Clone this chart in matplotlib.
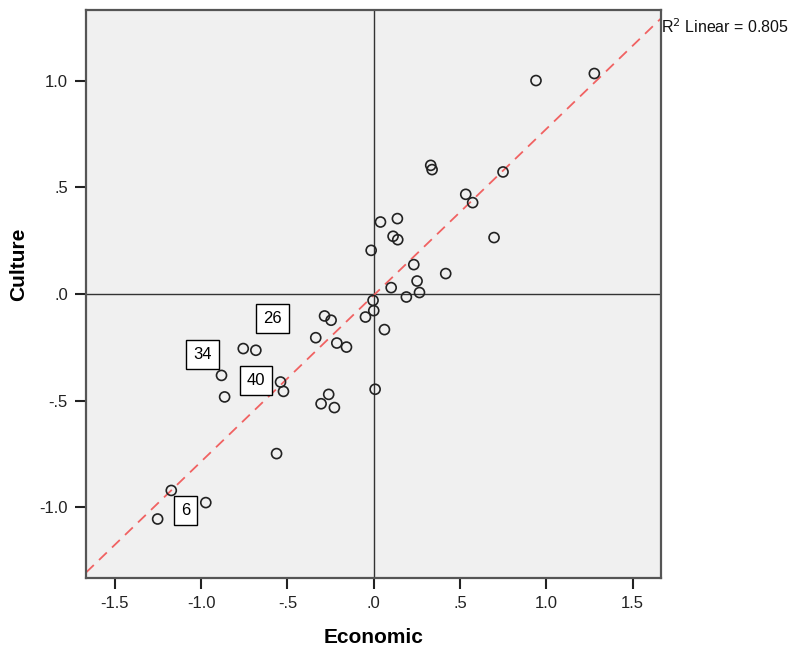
import numpy as np
import matplotlib
matplotlib.use("Agg")
import matplotlib.pyplot as plt
from matplotlib.ticker import FuncFormatter

plt.rcParams['font.family'] = ['Liberation Sans', 'DejaVu Sans']

# scatter values
economic = [0.940, 1.278, 0.330, 0.338, 0.749, 0.533, 0.573, 0.039, 0.137, 0.112,
            0.139, 0.697, -0.015, 0.232, 0.417, 0.251, 0.101, 0.265, 0.189, -0.004,
            0.000, 0.062, 0.008, -0.048, -0.285, -0.247, -0.336, -0.214, -0.158, -0.756,
            -0.683, -0.882, -0.540, -0.523, -0.864, -0.261, -0.305, -0.228, -0.563, -1.173,
            -0.973, -1.252]
culture = [1.002, 1.035, 0.604, 0.584, 0.573, 0.468, 0.429, 0.338, 0.354, 0.271,
           0.255, 0.265, 0.205, 0.138, 0.096, 0.061, 0.030, 0.007, -0.014, -0.030,
           -0.078, -0.167, -0.447, -0.108, -0.103, -0.123, -0.205, -0.230, -0.249, -0.256,
           -0.264, -0.382, -0.413, -0.457, -0.483, -0.471, -0.515, -0.533, -0.749, -0.922,
           -0.979, -1.056]

# case labels and where their boxes sit
case_ids = ['26', '34', '40', '6']
case_x = [-0.585, -0.993, -0.683, -1.089]
case_y = [-0.117, -0.284, -0.405, -1.016]

r2_text = 'R$^2$ Linear = 0.805'

xlim = (-1.667, 1.667)
ylim = (-1.333, 1.333)

fig = plt.figure(figsize=(7.92, 6.51), dpi=100)
ax = fig.add_axes([0.1086, 0.1121, 0.7266, 0.8725])
ax.set_facecolor('#f0f0f0')

ax.axhline(0, color='#333333', linewidth=1.0, zorder=1)
ax.axvline(0, color='#333333', linewidth=1.0, zorder=1)

# linear fit through the points
slope, intercept = np.polyfit(economic, culture, 1)
xs = np.array(xlim)
ax.plot(xs, slope * xs + intercept, color='#f06262', linewidth=1.3,
        dashes=(6, 4), zorder=2)

ax.scatter(economic, culture, s=52, facecolors='none', edgecolors='#222222',
           linewidths=1.2, zorder=3)

for cid, cx, cy in zip(case_ids, case_x, case_y):
    ax.text(cx, cy, cid, ha='center', va='center', fontsize=12, zorder=4,
            bbox=dict(boxstyle='square,pad=0.42', facecolor='white',
                      edgecolor='black', linewidth=1.0))

ax.set_xlim(*xlim)
ax.set_ylim(*ylim)
ax.set_xticks([-1.5, -1.0, -0.5, 0.0, 0.5, 1.0, 1.5])
ax.set_yticks([-1.0, -0.5, 0.0, 0.5, 1.0])


def spss_fmt(v, pos):
    s = '%.1f' % v
    s = s.replace('0.', '.')
    if s == '-.0':
        s = '.0'
    return s


ax.xaxis.set_major_formatter(FuncFormatter(spss_fmt))
ax.yaxis.set_major_formatter(FuncFormatter(spss_fmt))
ax.tick_params(direction='out', length=8, width=1.5, color='#222222',
               labelsize=12, labelcolor='#222222', pad=5)

for sp in ax.spines.values():
    sp.set_color('#555555')
    sp.set_linewidth(1.6)

ax.set_xlabel('Economic', fontsize=15, fontweight='bold', labelpad=12)
ax.set_ylabel('Culture', fontsize=15, fontweight='bold')
ax.yaxis.set_label_coords(-0.101, 0.553)

ax.text(1.0, 0.970, r2_text, transform=ax.transAxes, ha='left', va='center',
        fontsize=11.5, color='#111111')

plt.savefig('out.png', dpi=100)
